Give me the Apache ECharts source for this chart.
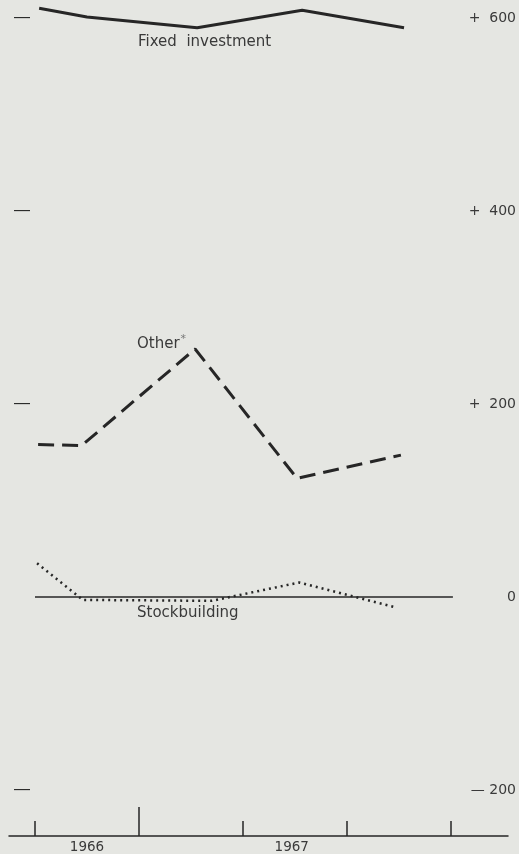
<!DOCTYPE html>
<html>
<head>
<meta charset="utf-8">
<script src="https://cdn.jsdelivr.net/npm/echarts@6/dist/echarts.min.js"></script>
<style>
html,body{margin:0;padding:0;background:#e5e6e2;}
#chart{width:519px;height:854px;}
</style>
</head>
<body>
<div id="chart"></div>
<script>
// ---- data ----
// x: position along the time axis in quarter-steps from the first tick (0 = first tick)
const fixedX   = [0.04, 0.50, 1.56, 2.57, 3.55];
const fixedY   = [610, 601, 590, 608, 590];
const otherX   = [0.03, 0.45, 1.54, 2.52, 3.52];
const otherY   = [158, 157, 257, 123, 147];
const stockX   = [0.02, 0.46, 1.70, 2.54, 3.48];
const stockY   = [35, -3, -4, 15, -11];
const zeroX    = [0, 4.02];
const zeroY    = [0, 0];
const yTicks   = [-200, 0, 200, 400, 600];
const xTicks   = [0, 2, 3, 4];
const yearTick = [1];
const yearPos  = [0.5, 2.47];
const yearLabels = ['1966', '1967'];
const seriesNames = ['Fixed investment', 'Other', 'Stockbuilding'];

function pairs(xs, ys){ return xs.map((x,i)=>[x, ys[i]]); }

const chart = echarts.init(document.getElementById('chart'));
const ink = '#262626';
const txt = '#3a3a3a';
const font = 'DejaVu Sans';

const xCommon = {
  type: 'value', min: -0.25, max: 4.55, position: 'bottom', offset: 46,
  splitLine: {show: false}
};

chart.setOption({
  backgroundColor: '#e5e6e2',
  animation: false,
  grid: {left: 9, right: 9.4, top: 18, bottom: 64},
  xAxis: [
    Object.assign({}, xCommon, {
      axisLine: {show: true, onZero: false, lineStyle: {color: ink, width: 1.5}},
      axisTick: {show: true, inside: true, length: 15, customValues: xTicks, lineStyle: {color: ink, width: 1.5}},
      axisLabel: {show: true, customValues: yearPos, margin: 4, color: txt, fontFamily: font, fontSize: 13.5,
        formatter: v => { const i = yearPos.indexOf(v); return i >= 0 ? yearLabels[i] : ''; }}
    }),
    Object.assign({}, xCommon, {
      axisLine: {show: false, onZero: false},
      axisTick: {show: true, inside: true, length: 29, customValues: yearTick, lineStyle: {color: ink, width: 1.5}},
      axisLabel: {show: false}
    })
  ],
  yAxis: [
    {
      type: 'value', min: -200, max: 600, interval: 200, position: 'left',
      axisLine: {show: false}, axisTick: {show: false}, splitLine: {show: false},
      axisLabel: {inside: true, margin: 5, color: ink, fontFamily: 'Liberation Sans', fontSize: 16,
        formatter: v => v === 0 ? '' : '\u2014'}
    },
    {
      type: 'value', min: -200, max: 600, interval: 200, position: 'right',
      axisLine: {show: false}, axisTick: {show: false}, splitLine: {show: false},
      axisLabel: {margin: 8, align: 'right', color: txt, fontFamily: font, fontSize: 14,
        formatter: v => v > 0 ? '+  ' + v : (v < 0 ? '\u2014 ' + (-v) : '0')}
    }
  ],
  series: [
    {name: 'zero', type: 'line', data: pairs(zeroX, zeroY), symbol: 'none', silent: true, clip: false,
     lineStyle: {color: ink, width: 1.5}},
    {name: seriesNames[0], type: 'line', data: pairs(fixedX, fixedY), symbol: 'none', clip: false,
     lineStyle: {color: ink, width: 3}},
    {name: seriesNames[1], type: 'line', data: pairs(otherX, otherY), symbol: 'none', clip: false,
     lineStyle: {color: ink, width: 3, type: [16, 8]}},
    {name: seriesNames[2], type: 'line', data: pairs(stockX, stockY), symbol: 'none', clip: false,
     lineStyle: {color: ink, width: 2.5, type: [2, 4]}}
  ],
  graphic: [
    {type: 'text', left: 138, top: 35, style: {text: 'Fixed  investment', fill: txt, font: '15px "DejaVu Sans"'}},
    {type: 'text', left: 137, top: 334, style: {
      text: 'Other{s|*}', fill: txt, font: '15px "DejaVu Sans"',
      rich: {s: {fontSize: 11, verticalAlign: 'top', padding: [0,0,10,1], fill: '#777', fontFamily: font}}
    }},
    {type: 'text', left: 137, top: 606, style: {text: 'Stockbuilding', fill: txt, font: '15px "DejaVu Sans"'}}
  ]
});
</script>
</body>
</html>
